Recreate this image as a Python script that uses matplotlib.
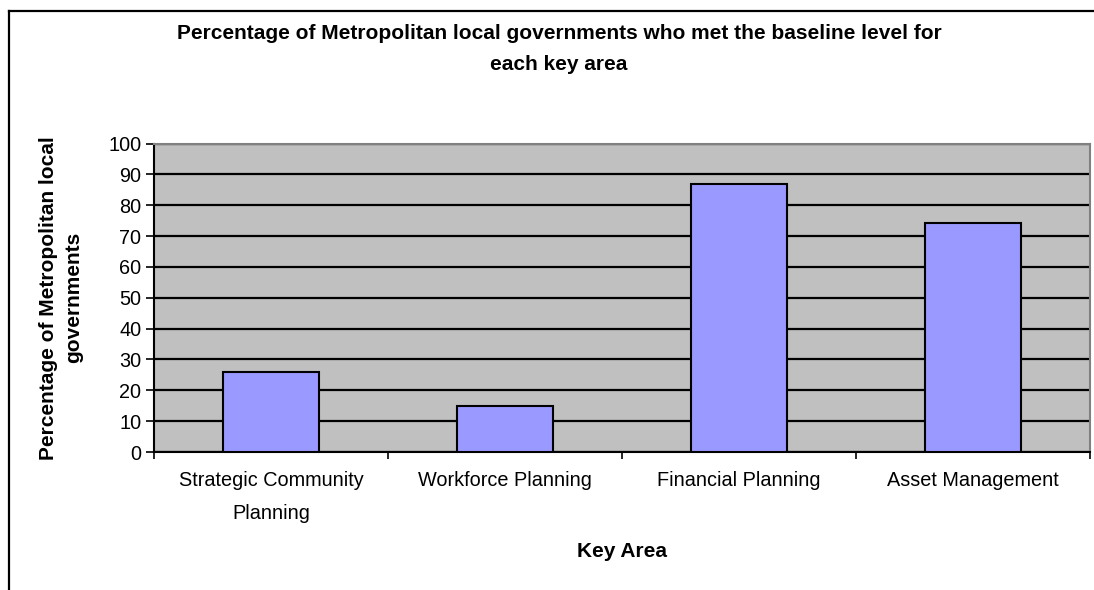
import matplotlib.pyplot as plt
import numpy as np

plt.rcParams['font.family'] = ['Liberation Sans', 'DejaVu Sans']

areas = ['Strategic Community\nPlanning', 'Workforce Planning',
         'Financial Planning', 'Asset Management']
pct = [25.8, 15.0, 86.8, 74.2]
yticks = list(range(0, 101, 10))

W, H = 1094, 590
fig = plt.figure(figsize=(W/100, H/100), dpi=100)
ax = fig.add_axes([154/W, 1-452/H, 936/W, 308.5/H])

x = np.arange(len(areas))
ax.set_facecolor('#C0C0C0')
ax.set_axisbelow(True)
ax.yaxis.grid(True, color='black', lw=1.6)
ax.bar(x, pct, width=0.41, color='#9999FF', edgecolor='black', lw=1.5, zorder=3)

ax.set_xlim(-0.5, len(areas)-0.5)
ax.set_ylim(0, 100)
ax.set_yticks(yticks)
ax.set_xticks(x)
ax.set_xticklabels(areas, fontsize=14.3, linespacing=1.9)
ax.set_xticks(np.arange(-0.5, len(areas)), minor=True)
ax.tick_params(axis='x', which='major', length=0, pad=14)
ax.tick_params(axis='x', which='minor', length=5, width=1.2, color='black', direction='out')
ax.tick_params(axis='y', length=6, width=1.2, labelsize=14.3, pad=3)

for s in ['top', 'right']:
    ax.spines[s].set_color('#808080')
    ax.spines[s].set_linewidth(1.5)
for s in ['left', 'bottom']:
    ax.spines[s].set_color('black')
    ax.spines[s].set_linewidth(1.5)

ax.set_xlabel('Key Area', fontsize=15, fontweight='bold', labelpad=14)
ax.set_ylabel('Percentage of Metropolitan local\ngovernments', fontsize=15,
              fontweight='bold', linespacing=1.45, labelpad=18)

fig.text(559/W, 1-49/H, 'Percentage of Metropolitan local governments who met the baseline level for\neach key area',
         ha='center', va='center', fontsize=15, fontweight='bold', linespacing=1.75)

# chart area border (only left and top visible)
fig.add_artist(plt.Line2D([9/W, 9/W], [0, 1-11/H], color='black', lw=1.6))
fig.add_artist(plt.Line2D([9/W, 1], [1-11/H, 1-11/H], color='black', lw=1.6))

fig.savefig('out.png', dpi=100)
